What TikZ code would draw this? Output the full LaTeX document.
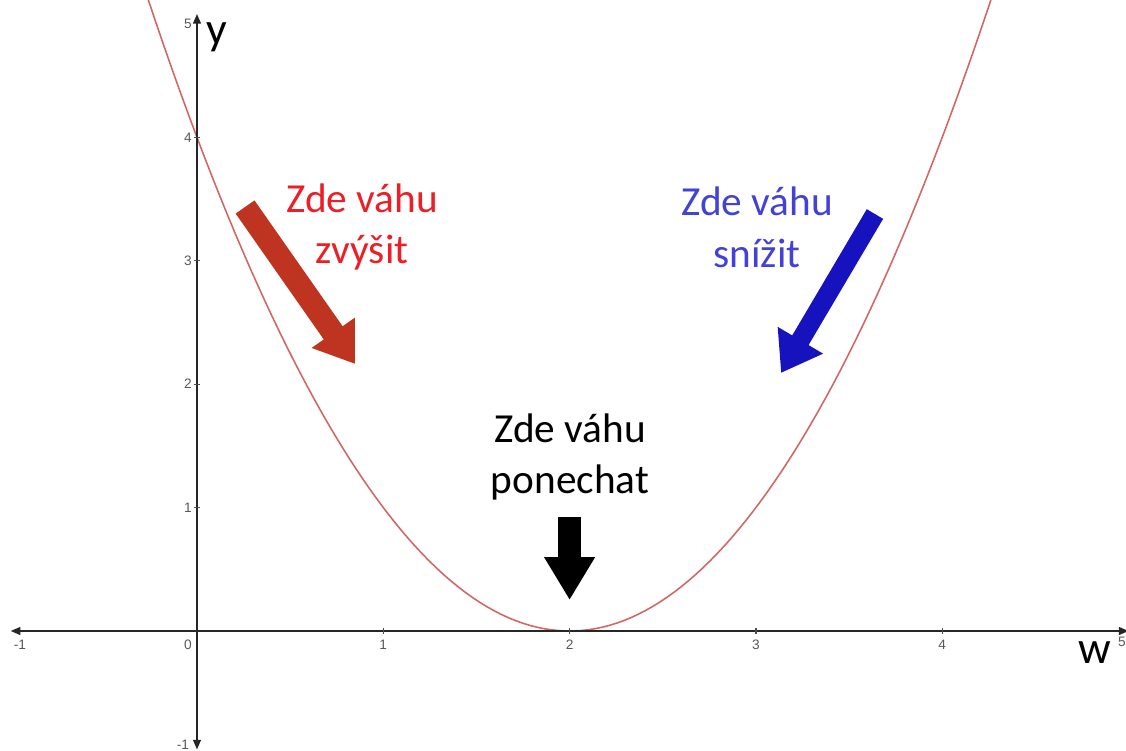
\documentclass[tikz,border=0pt]{standalone}
\usepackage{fontspec}
\setmainfont{Carlito}
\newfontfamily\tickfont{Liberation Sans}
\usetikzlibrary{arrows.meta}

\definecolor{curvered}{RGB}{208,104,104}
\definecolor{upred}{RGB}{236,30,38}
\definecolor{uparrow}{RGB}{190,52,32}
\definecolor{downblue}{RGB}{66,66,212}
\definecolor{downarrow}{RGB}{22,18,190}

\begin{document}
\begin{tikzpicture}[
    x=3.726cm, y=2.468cm,
    axis/.style={line width=0.85pt, black!85,
      {Triangle[length=5.5pt,width=4.5pt]}-{Triangle[length=5.5pt,width=4.5pt]}},
    tickmark/.style={line width=0.7pt, black!70},
    ticklabel/.style={font=\tickfont\fontsize{7.8}{9}\selectfont, text=black!65, inner sep=0pt},
    hint/.style={font=\fontsize{23.5}{29.5}\selectfont, align=center},
    axislabel/.style={font=\fontsize{26}{28}\selectfont},
    bigarrow/.style={line width=0.46cm, -{Triangle[length=0.76cm,width=1.0cm]}}
]
\useasboundingbox (-1.0574,-0.9724) rectangle (4.9866,5.1135);

% the parabola, cut at the picture edge
\begin{scope}
  \clip (-1.0574,-0.9724) rectangle (4.9866,5.1135);
  \draw[curvered, line width=0.9pt, domain=-0.3:4.3, samples=120]
    plot (\x,{(\x-2)^2});
\end{scope}

% axes
\draw[axis] (-1,0) -- (5,0);
\draw[axis] (0,-0.96) -- (0,5);

% ticks and their numbers
\foreach \i in {1,2,3,4} {
  \draw[tickmark] (\i,-0.024) -- (\i,0.024);
  \node[ticklabel] (xl\i) at (\i,-0.113) {\i};
  \draw[tickmark] (-0.016,\i) -- (0.016,\i);
  \node[ticklabel] (yl\i) at (-0.048,\i) {\i};
}
\node[ticklabel] (origin) at (-0.048,-0.113) {0};
\node[ticklabel] (xlm) at (-0.950,-0.113) {-1};
\node[ticklabel] (xl5) at (4.965,-0.089) {5};
\node[ticklabel] (ylm) at (-0.075,-0.924) {-1};
\node[ticklabel] (yl5) at (-0.048,4.919) {5};

% axis names
\node[axislabel] (ylabel) at (0.107,4.814) {y};
\node[axislabel] (wlabel) at (4.820,-0.178) {w};

% hints
\node[hint, text=upred] (raise) at (0.886,3.274) {Zde váhu\\zvýšit};
\node[hint, text=downblue] (lower) at (3.006,3.274) {Zde váhu\\snížit};
\node[hint, text=black] (keep) at (2.002,1.410) {Zde váhu\\ponechat};

% block arrows
\coordinate (raisefrom) at (0.258,3.436);
\coordinate (raiseto) at (0.848,2.164);
\coordinate (lowerfrom) at (3.639,3.379);
\coordinate (lowerto) at (3.135,2.091);
\coordinate (keepfrom) at (2.0,0.924);
\coordinate (keepto) at (2.0,0.251);

\draw[bigarrow, uparrow] (raisefrom) -- (raiseto);
\draw[bigarrow, downarrow, line width=0.38cm] (lowerfrom) -- (lowerto);
\draw[bigarrow, black, -{Triangle[length=0.86cm,width=0.96cm]}] (keepfrom) -- (keepto);
\end{tikzpicture}
\end{document}
